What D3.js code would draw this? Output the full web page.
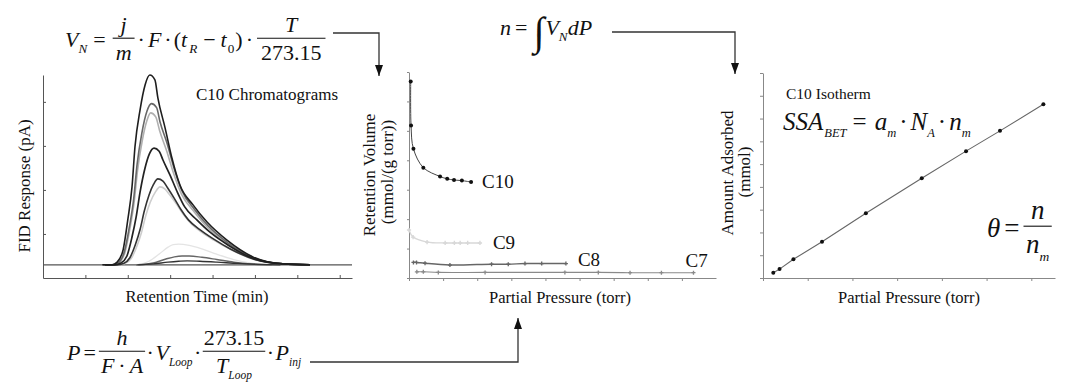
<!DOCTYPE html>
<html><head><meta charset="utf-8">
<script src="https://cdn.jsdelivr.net/npm/d3@7"></script>
<style>
body{margin:0;background:#fff}
svg{display:block}
</style>
</head><body>
<svg id="c" width="1065" height="384"></svg>
<script>
// ---------------- DATA ----------------
// Panel A: C10 chromatograms (retention time, FID response)
const retentionTicks = [0,1,2,3,4,5,6,7];
const responseTicks = [1,2,3,4];
const chromBaseline = [[0,0.30],[7.29,0.30]];
const peak1 = [[1.40,0.30],[1.63,0.30],[1.75,0.36],[1.89,0.64],[2.00,1.32],[2.10,2.07],[2.17,2.98],[2.29,3.82],[2.41,4.39],[2.52,4.61],[2.64,4.50],[2.71,4.09],[2.88,3.41],[3.04,2.73],[3.23,2.11],[3.54,1.66],[3.87,1.27],[4.34,0.86],[4.95,0.48],[5.66,0.32],[6.30,0.30]];
const peak2 = [[1.42,0.30],[1.65,0.30],[1.78,0.35],[1.92,0.60],[2.04,1.17],[2.14,1.80],[2.22,2.58],[2.33,3.28],[2.45,3.78],[2.56,3.96],[2.68,3.87],[2.76,3.55],[2.93,3.05],[3.09,2.50],[3.28,1.98],[3.58,1.55],[3.90,1.18],[4.36,0.80],[4.96,0.46],[5.66,0.32],[6.30,0.30]];
const peak3 = [[1.43,0.30],[1.66,0.30],[1.79,0.35],[1.93,0.57],[2.05,1.12],[2.15,1.72],[2.23,2.44],[2.34,3.11],[2.45,3.57],[2.54,3.75],[2.66,3.66],[2.75,3.35],[2.92,2.88],[3.08,2.38],[3.27,1.90],[3.57,1.50],[3.89,1.14],[4.35,0.78],[4.95,0.45],[5.66,0.32],[6.30,0.30]];
const peak4 = [[1.46,0.30],[1.70,0.30],[1.84,0.34],[1.98,0.50],[2.10,0.93],[2.20,1.40],[2.29,1.95],[2.40,2.47],[2.51,2.82],[2.62,2.95],[2.74,2.88],[2.83,2.68],[3.00,2.33],[3.16,1.97],[3.34,1.62],[3.63,1.32],[3.94,1.04],[4.38,0.74],[4.97,0.44],[5.66,0.32],[6.30,0.30]];
const peak5 = [[1.50,0.30],[1.75,0.30],[1.90,0.33],[2.05,0.46],[2.18,0.76],[2.29,1.10],[2.39,1.52],[2.50,1.88],[2.61,2.13],[2.71,2.25],[2.83,2.20],[2.93,2.06],[3.09,1.82],[3.25,1.56],[3.43,1.32],[3.70,1.10],[4.00,0.90],[4.42,0.66],[5.00,0.42],[5.66,0.32],[6.30,0.30]];
const peak6 = [[1.52,0.30],[1.78,0.30],[1.93,0.33],[2.08,0.44],[2.21,0.71],[2.32,1.02],[2.42,1.40],[2.53,1.72],[2.65,1.95],[2.76,2.07],[2.88,2.02],[2.98,1.90],[3.14,1.69],[3.30,1.46],[3.48,1.25],[3.74,1.04],[4.03,0.86],[4.44,0.64],[5.01,0.41],[5.66,0.32],[6.30,0.30]];
const peak7 = [[2.20,0.30],[2.50,0.38],[2.75,0.55],[2.95,0.70],[3.07,0.76],[3.20,0.77],[3.45,0.74],[3.75,0.66],[4.10,0.54],[4.50,0.42],[4.95,0.33],[5.40,0.30]];
const peak8 = [[2.25,0.30],[2.60,0.34],[2.90,0.43],[3.10,0.48],[3.28,0.50],[3.45,0.50],[3.75,0.47],[4.10,0.42],[4.50,0.36],[4.90,0.32],[5.40,0.30]];
const peak9 = [[2.20,0.30],[2.60,0.32],[2.95,0.36],[3.20,0.38],[3.40,0.39],[3.70,0.38],[4.10,0.36],[4.60,0.33],[5.10,0.31],[5.60,0.30]];

// Panel B: retention volume vs partial pressure
const pressureTicksB = [0,1,2,3,4,5,6,7,8];
const retVolTicks = [0,1,2,3,4,5,6,7];
const c10P = [0.05,0.06,0.13,0.42,0.91,1.12,1.32,1.55,1.82];
const c10V = [6.68,5.18,4.39,3.75,3.45,3.37,3.33,3.31,3.26];
const c9P  = [0.00,0.12,0.53,1.06,1.33,1.50,1.72,2.08];
const c9V  = [1.63,1.39,1.22,1.19,1.19,1.19,1.19,1.19];
const c8P  = [0.13,0.22,0.47,1.20,2.42,2.91,3.40,3.89,4.60];
const c8V  = [0.53,0.53,0.50,0.44,0.47,0.47,0.49,0.49,0.49];
const c7P  = [0.23,0.42,0.86,2.23,4.57,5.55,6.48,7.40,8.34];
const c7V  = [0.21,0.21,0.19,0.19,0.19,0.19,0.18,0.18,0.18];
const seriesNamesB = ["C10","C9","C8","C7"];

// Panel C: C10 isotherm
const pressureTicksC = [0,1,2,3,4,5,6];
const amountTicks = [0,1,2,3,4,5,6,7,8,9];
const isoP = [0.23,0.37,0.68,1.32,2.30,3.55,4.54,5.30,6.27];
const isoN = [0.23,0.39,0.82,1.59,2.84,4.38,5.57,6.46,7.63];

// ---------------- DRAW ----------------
const FONT = "Liberation Serif";
const svg = d3.select("#c");
const zip = (a,b) => a.map((v,i)=>[v,b[i]]);
const txt = (g) => g.append("text").attr("font-family",FONT).attr("fill","#111");

// ---- Panel A
const xA = d3.scaleLinear().domain([0,7.29]).range([43,352]);
const yA = d3.scaleLinear().domain([0,4.61]).range([278,75]);
const gA = svg.append("g");
gA.append("g").attr("transform","translate(0,278)")
  .call(d3.axisBottom(xA).tickValues(retentionTicks).tickSize(-3).tickSizeOuter(0).tickFormat(""))
  .call(g=>g.selectAll("path,line").attr("stroke","#555"));
gA.append("g").attr("transform","translate(43,0)")
  .call(d3.axisLeft(yA).tickValues(responseTicks).tickSize(-3).tickSizeOuter(0).tickFormat(""))
  .call(g=>g.selectAll("path,line").attr("stroke","#555"));
const lineA = d3.line().x(d=>xA(d[0])).y(d=>yA(d[1])).curve(d3.curveMonotoneX);
const chromSeries = [chromBaseline, peak7, peak6, peak3, peak2, peak5, peak4, peak1, peak8, peak9];
const chromColors = ["#555","#e4e4e4","#cdcdcd","#b0b0b0","#686868","#333","#222","#1e1e1e","#666","#333"];
const chromWidths = [1.2,1.3,1.6,1.6,1.6,1.6,1.7,1.6,1.5,1.3];
chromSeries.forEach((s,i)=>{
  gA.append("path").attr("d",lineA(s)).attr("fill","none")
    .attr("stroke",chromColors[i]).attr("stroke-width",chromWidths[i]);
});
txt(gA).attr("x",196).attr("y",100).attr("font-size",17).text("C10 Chromatograms");
txt(gA).attr("text-anchor","middle").attr("x",197).attr("y",302).attr("font-size",16.5).text("Retention Time (min)");
txt(gA).attr("text-anchor","middle").attr("transform","translate(30,186) rotate(-90)").attr("font-size",17).text("FID Response (pA)");

// ---- Panel B
const xB = d3.scaleLinear().domain([0,9]).range([409,716]);
const yB = d3.scaleLinear().domain([0,7]).range([278,72]);
const gB = svg.append("g");
gB.append("g").attr("transform","translate(0,278)")
  .call(d3.axisBottom(xB).tickValues(pressureTicksB).tickSize(3).tickSizeOuter(0).tickFormat(""))
  .call(g=>g.selectAll("path,line").attr("stroke","#888"));
gB.append("g").attr("transform","translate(409,0)")
  .call(d3.axisLeft(yB).tickValues(retVolTicks).tickSize(2).tickSizeOuter(0).tickFormat(""))
  .call(g=>g.selectAll("path,line").attr("stroke","#888"));
const lineB = d3.line().x(d=>xB(d[0])).y(d=>yB(d[1])).curve(d3.curveCatmullRom.alpha(0.5));
const seriesB = [zip(c7P,c7V), zip(c8P,c8V), zip(c9P,c9V), zip(c10P,c10V)];
const colorsB = ["#8a8a8a","#666","#d8d8d8","#444"];
const widthsB = [1.1,1.5,1.3,1.0];
seriesB.forEach((s,i)=>{
  gB.append("path").attr("d",lineB(s)).attr("fill","none").attr("stroke",colorsB[i]).attr("stroke-width",widthsB[i]);
});
gB.selectAll("circle.c10").data(seriesB[3]).join("circle")
  .attr("cx",d=>xB(d[0])).attr("cy",d=>yB(d[1])).attr("r",2).attr("fill","#111");
[0,1,2].forEach(i=>{
  gB.selectAll(null).data(seriesB[i]).join("path")
    .attr("transform",d=>`translate(${xB(d[0])},${yB(d[1])})`)
    .attr("d",d3.symbol(d3.symbolCross, i===2?10:9)())
    .attr("fill", i===2 ? "#d8d8d8" : colorsB[i]);
});
const labelPos = [[c10P[8],c10V[8]],[c9P[7],c9V[7]],[c8P[8],c8V[8]],[c7P[8],c7V[8]]];
const labelDx = [11,13,12,-8], labelDy = [6,6,2,-6];
seriesNamesB.forEach((n,i)=>{
  txt(gB).attr("x",xB(labelPos[i][0])+labelDx[i]).attr("y",yB(labelPos[i][1])+labelDy[i])
    .attr("font-size",19).text(n);
});
txt(gB).attr("text-anchor","middle").attr("x",560).attr("y",303).attr("font-size",16.5).text("Partial Pressure (torr)");
txt(gB).attr("text-anchor","middle").attr("transform","translate(375,175) rotate(-90)").attr("font-size",17).text("Retention Volume");
txt(gB).attr("text-anchor","middle").attr("transform","translate(393,172) rotate(-90)").attr("font-size",17).text("(mmol/(g torr))");

// ---- Panel C
const xC = d3.scaleLinear().domain([0,6.53]).range([763,1055]);
const yC = d3.scaleLinear().domain([0,9]).range([278,73]);
const gC = svg.append("g");
gC.append("g").attr("transform","translate(0,278)")
  .call(d3.axisBottom(xC).tickValues(pressureTicksC).tickSize(3).tickSizeOuter(0).tickFormat(""))
  .call(g=>g.selectAll("path,line").attr("stroke","#888"));
gC.append("g").attr("transform","translate(763,0)")
  .call(d3.axisLeft(yC).tickValues(amountTicks).tickSize(3).tickSizeOuter(0).tickFormat(""))
  .call(g=>g.selectAll("path,line").attr("stroke","#888"));
const isoData = zip(isoP,isoN);
gC.append("path").attr("d",d3.line().x(d=>xC(d[0])).y(d=>yC(d[1]))(isoData))
  .attr("fill","none").attr("stroke","#666").attr("stroke-width",1.1);
gC.selectAll("circle").data(isoData).join("circle")
  .attr("cx",d=>xC(d[0])).attr("cy",d=>yC(d[1])).attr("r",2).attr("fill","#111");
txt(gC).attr("x",786).attr("y",99).attr("font-size",15.5).text("C10 Isotherm");
txt(gC).attr("text-anchor","middle").attr("x",909).attr("y",303).attr("font-size",16.5).text("Partial Pressure (torr)");
txt(gC).attr("text-anchor","middle").attr("transform","translate(733,173) rotate(-90)").attr("font-size",17).text("Amount Adsorbed");
txt(gC).attr("text-anchor","middle").attr("transform","translate(750,172) rotate(-90)").attr("font-size",17).text("(mmol)");

// ---------------- EQUATIONS ----------------
function place(g, list, x, b, sz, subF){
  for(const it of list){
    if(typeof it === "string" || it.i !== undefined){
      const s = typeof it === "string" ? it : it.i;
      const t = txt(g).attr("x",x).attr("y",b).attr("font-size",sz)
        .attr("font-style", typeof it === "string" ? "normal" : "italic").text(s);
      x += t.node().getComputedTextLength();
    } else if(it.sub !== undefined){
      const ss = sz*subF;
      const t = txt(g).attr("x",x).attr("y",b+sz*0.28).attr("font-size",ss)
        .attr("font-style", it.si ? "italic":"normal").text(it.sub);
      x += t.node().getComputedTextLength();
    } else if(it.sp !== undefined){
      x += it.sp;
    } else if(it.big !== undefined){
      const t = txt(g).attr("x",x).attr("y",b+it.dy).attr("font-size",it.size)
        .attr("font-style","normal").text(it.big);
      x += t.node().getComputedTextLength() + (it.after||0);
    } else if(it.f){
      const pad = it.pad ?? 3;
      const bar = b - sz*0.40;
      const gn = g.append("g"), gd = g.append("g");
      const wn = place(gn, it.f[0], 0, bar - sz*0.26, sz, subF);
      const wd = place(gd, it.f[1], 0, bar + sz*1.0, sz, subF);
      const W = Math.max(wn,wd) + 2*pad;
      gn.attr("transform",`translate(${x + (W-wn)/2},0)`);
      gd.attr("transform",`translate(${x + (W-wd)/2},0)`);
      g.append("line").attr("x1",x).attr("x2",x+W).attr("y1",bar).attr("y2",bar)
        .attr("stroke","#111").attr("stroke-width",1.1);
      x += W;
    }
  }
  return x;
}
const eqG = svg.append("g");
const dot = (a,b) => [{sp:a},"·",{sp:b}];
// V_N = j/m · F · (t_R − t_0) · T/273.15
place(eqG, [{i:"V"},{sub:"N",si:true},{sp:6},"=",{sp:7},
  {f:[[{i:"j"}],[{i:"m"}]]},...dot(3,3),{i:"F"},...dot(3,2),"(",{i:"t"},{sp:2},{sub:"R",si:true},{sp:6},"−",{sp:5},
  {i:"t"},{sp:1},{sub:"0"},{sp:1},")",...dot(3,4),{f:[[{i:"T"}],["273.15"]],pad:4}], 65, 47, 22, 0.6);
// n = ∫ V_N dP
place(eqG, [{i:"n"},{sp:4},"=",{sp:6},{big:"∫",size:40,dy:10,after:1},{i:"V"},{sub:"N",si:true},{i:"d"},{i:"P"}], 500, 35, 22, 0.6);
// P = h/(F·A) · V_Loop · 273.15/T_Loop · P_inj
place(eqG, [{i:"P"},{sp:3},"=",{sp:3},{f:[[{i:"h"}],[{i:"F"},{sp:4},"·",{sp:4},{i:"A"}]],pad:2},...dot(1.5,1.5),
  {i:"V"},{sub:"Loop",si:true},...dot(1.5,1.5),{f:[["273.15"],[{i:"T"},{sub:"Loop",si:true}]],pad:1},...dot(1.5,1.5),{i:"P"},{sub:"inj",si:true}], 67, 360, 22, 0.52);
// SSA_BET = a_m · N_A · n_m
place(eqG, [{i:"SSA"},{sp:1},{sub:"BET",si:true},{sp:6},"=",{sp:8},{i:"a"},{sub:"m",si:true},{sp:3},"·",{sp:3},
  {i:"N"},{sub:"A",si:true},{sp:3},"·",{sp:3},{i:"n"},{sub:"m",si:true}], 783, 130, 25, 0.5);
// θ = n / n_m
place(eqG, [{i:"θ"},{sp:4},"=",{sp:4},{f:[[{i:"n"}],[{i:"n"},{sub:"m",si:true}]],pad:2.5}], 987, 237, 27, 0.5);

// ---------------- ARROWS ----------------
const arrowG = svg.append("g");
function arrow(points, dir){
  arrowG.append("path").attr("d",d3.line()(points)).attr("fill","none").attr("stroke","#333").attr("stroke-width",1.3);
  const [tx,ty] = points[points.length-1];
  const h = 11*dir, w = 4;
  arrowG.append("path").attr("d",`M${tx},${ty}L${tx-w},${ty-h}L${tx+w},${ty-h}Z`).attr("fill","#111");
}
arrow([[333,33],[379,33],[379,76]], 1);
arrow([[612,32],[735,32],[735,74]], 1);
arrow([[310,362],[518,362],[518,318]], -1);
</script>
</body></html>
